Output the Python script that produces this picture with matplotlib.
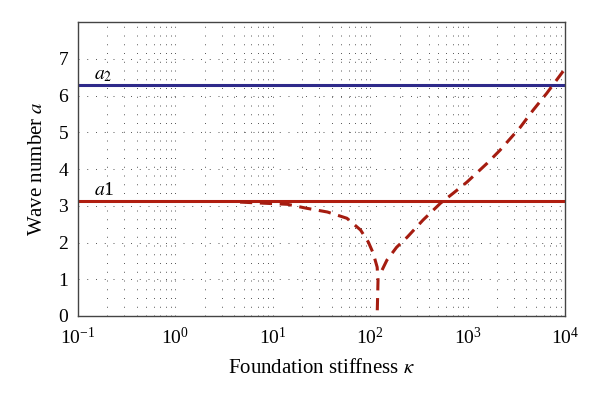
import numpy as np
import matplotlib
matplotlib.use('Agg')
import matplotlib.pyplot as plt
from matplotlib.ticker import LogLocator, NullFormatter

plt.rcParams['font.family'] = ['Liberation Serif', 'DejaVu Serif']
plt.rcParams['mathtext.fontset'] = 'stix'

# dashed curve, left branch (kappa, a)
kL = [4.6, 14.1, 22.4, 36.3, 57.5, 79.4, 95.5, 107, 117.5, 120, 117.5]
aL = [3.10, 3.04, 2.93, 2.83, 2.66, 2.34, 2.01, 1.71, 1.33, 0.98, 0.0]
# right branch
kR = [132, 148, 186, 240, 347, 525, 708, 977, 1585, 2138, 3467, 4677, 6457, 9333, 10000]
aR = [1.25, 1.52, 1.87, 2.15, 2.61, 3.07, 3.34, 3.64, 4.16, 4.51, 5.14, 5.6, 6.06, 6.63, 6.72]

a1 = np.pi
a2 = 2 * np.pi

fig = plt.figure(figsize=(6, 3.94), dpi=100)
ax = fig.add_axes([0.13, 0.198, 0.812, 0.746])

ax.set_xscale('log')
ax.set_xlim(0.1, 1e4)
ax.set_ylim(0, 8)
ax.set_yticks(range(8))

ax.xaxis.set_minor_locator(LogLocator(base=10, subs=np.arange(2, 10), numticks=20))
ax.xaxis.set_minor_formatter(NullFormatter())
dots = (0, (1, 8))
ax.grid(True, which='major', axis='both', color='#555555', linestyle=dots, linewidth=0.7)
ax.grid(True, which='minor', axis='x', color='#555555', linestyle=dots, linewidth=0.7)
ax.set_axisbelow(True)

ax.axhline(a2, color='#2e2a8a', linewidth=2.2)
ax.axhline(a1, color='#b01e10', linewidth=2.2)

ax.plot(kL, aL, color='#a51c10', linestyle=(0, (4, 2.5)), linewidth=2.2)
ax.plot(kR, aR, color='#a51c10', linestyle=(0, (4, 2.5)), linewidth=2.2)

ax.text(0.145, 6.45, '$a_2$', fontsize=14)
ax.text(0.145, 3.3, '$a$1', fontsize=14)

ax.tick_params(which='both', length=0, labelsize=14)
ax.tick_params(axis='x', pad=8)
ax.tick_params(axis='y', pad=7)
ax.set_xlabel(r'Foundation stiffness $\kappa$', fontsize=15, labelpad=8)
ax.set_ylabel('Wave number $a$', fontsize=15, labelpad=8)
for s in ax.spines.values():
    s.set_color('#444444')
    s.set_linewidth(1.0)

fig.savefig('out.png', dpi=100)
